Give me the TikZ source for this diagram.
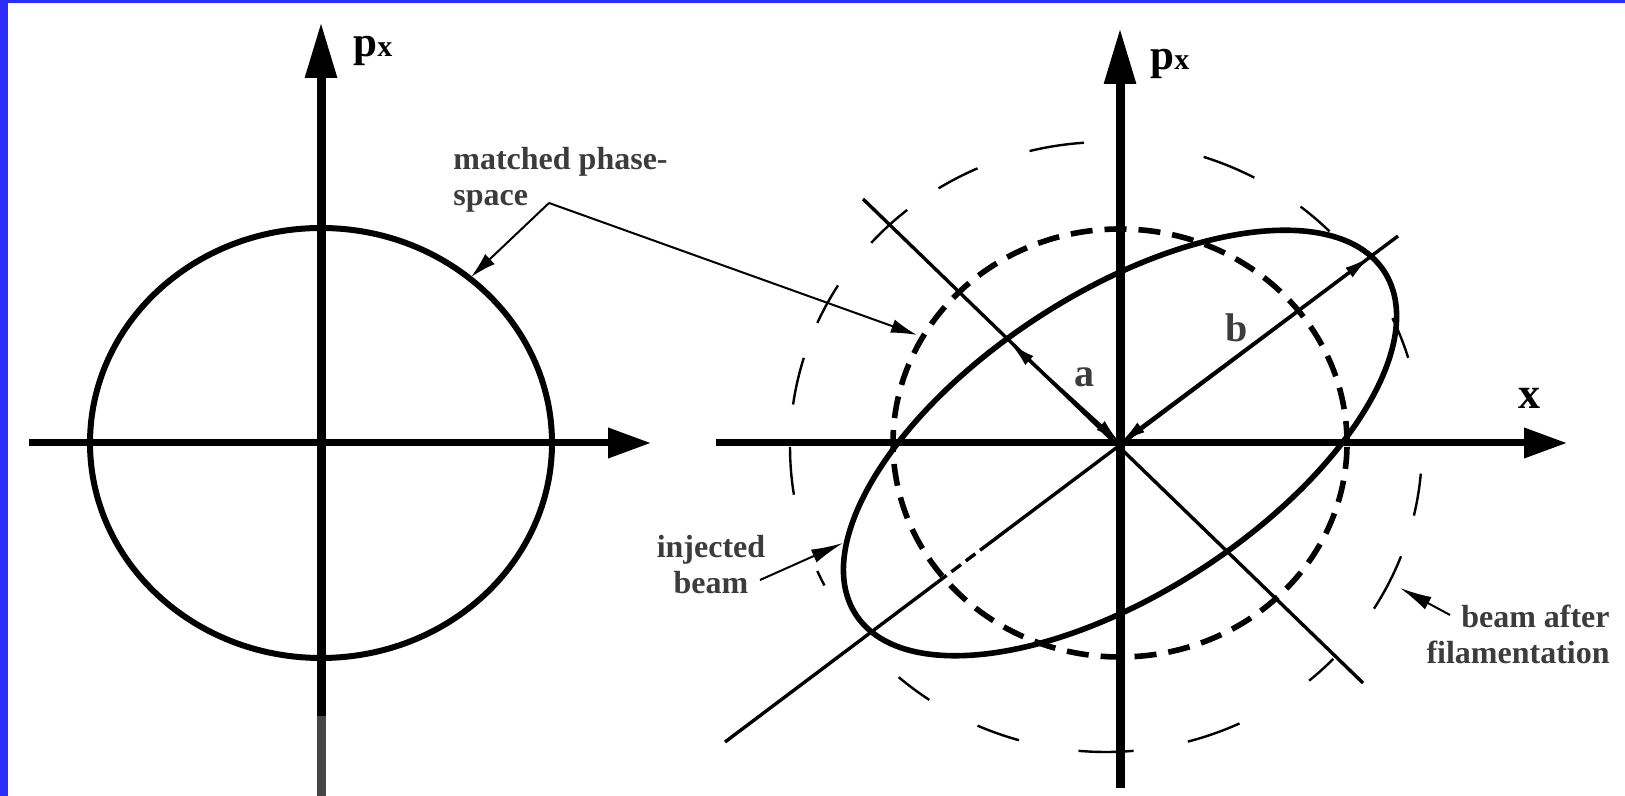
\documentclass[tikz,border=0pt]{standalone}
\usepackage{fontspec}
\setmainfont{Liberation Serif}
\usetikzlibrary{arrows.meta,calc}
\definecolor{frameblue}{RGB}{45,45,250}
\definecolor{labelgray}{RGB}{60,60,60}
\definecolor{axisgray}{RGB}{70,70,70}

\tikzset{
  vaxis/.style={line width=4.5pt, -{Triangle[length=28pt,width=15pt]}},
  haxis/.style={line width=3.5pt, -{Triangle[length=21.5pt,width=14.5pt]}},
  matchedline/.style={line width=3pt},
  matcheddash/.style={line width=2.8pt, dash pattern=on 11pt off 6pt},
  beamline/.style={line width=2.8pt},
  filamarc/.style={line width=1.2pt},
  diag/.style={line width=1.7pt},
  leader/.style={line width=1pt, -{Latex[length=13pt,width=7pt]}},
  pointer/.style={line width=1pt, -{Latex[length=16pt,width=7pt]}},
  halfaxis/.style={line width=1.5pt, {Latex[length=13pt,width=6pt]}-{Latex[length=13pt,width=6pt]}},
  lbl/.style={font=\fontsize{16pt}{18pt}\selectfont\bfseries, text=labelgray, inner sep=0pt},
  axlbl/.style={inner sep=0pt, font=\bfseries}
}

\begin{document}
\begin{tikzpicture}[x=0.5pt, y=0.5pt]
  \useasboundingbox (0,0) rectangle (1625,796);
  % frame
  \fill[frameblue] (0,0) rectangle (1625,796);
  \fill[white] (8,0) rectangle (1625,793);

  % left: matched beam
  \coordinate (lo) at (321,353);
  \coordinate (lbot) at (321,0);
  \coordinate (lgray) at (321,80);
  \coordinate (ltop) at (321,774);
  \coordinate (lleft) at (29,353);
  \coordinate (lright) at (651,353);
  \draw[matchedline] (lo) ellipse [x radius=231, y radius=215];
  \draw[vaxis] (lbot) -- (ltop);
  \draw[line width=4.5pt, axisgray] (lbot) -- (lgray);
  \draw[haxis] (lleft) -- (lright);
  \node[axlbl, anchor=base west] (lpx) at (353,739)
    {\fontsize{21.5pt}{24pt}\selectfont p\fontsize{15pt}{18pt}\selectfont x};

  % right: injected beam
  \coordinate (ro) at (1120,353);
  \coordinate (rbot) at (1120,8);
  \coordinate (rtop) at (1120,768);
  \coordinate (rleft) at (716,353);
  \coordinate (rright) at (1567,353);
  \coordinate (fc) at (1106,349);
  \coordinate (d1a) at (725,54);
  \coordinate (d1b) at (1398,560);
  \coordinate (d2a) at (863,597);
  \coordinate (d2b) at (1363,113);
  \coordinate (atip) at (1010,453);
  \coordinate (btip) at (1370,539);

  % beam after filamentation
  \foreach \s/\e in {17/25, 45/52, 62/72, 94/104, 114/122, 129/138, 148/156,
      163/172, 180/189, 204/207, 229/236, 246/254, 265/275, 285/295,
      310/316, 328/339, 347/355}
    \draw[filamarc] ($(fc)+(\s:316 and 305)$) arc[start angle=\s, end angle=\e, x radius=316, y radius=305];

  % ellipse axes
  \draw[diag] (d1a) -- ($(d1a)!0.315!(d1b)$);
  \draw[diag, dash pattern=on 6pt off 3pt] ($(d1a)!0.315!(d1b)$) -- ($(d1a)!0.379!(d1b)$);
  \draw[diag] ($(d1a)!0.379!(d1b)$) -- (d1b);
  \draw[diag] (d2a) -- (d2b);

  \draw[matcheddash] (ro) ellipse [x radius=227, y radius=214];
  \draw[beamline, rotate around={33:(ro)}] (ro) ellipse [x radius=315, y radius=150];

  \draw[vaxis] (rbot) -- (rtop);
  \draw[haxis] (rleft) -- (rright);
  \draw[halfaxis] (atip) -- (ro);
  \draw[halfaxis] (btip) -- (ro);

  \node[axlbl, anchor=base west] (rpx) at (1150,726)
    {\fontsize{21.5pt}{24pt}\selectfont p\fontsize{15pt}{18pt}\selectfont x};
  \node[axlbl, anchor=base, font=\fontsize{22pt}{24pt}\selectfont\bfseries] (rx) at (1529,387) {x};
  \node[lbl, anchor=base, font=\fontsize{20pt}{22pt}\selectfont\bfseries] (la) at (1084,409) {a};
  \node[lbl, anchor=base, font=\fontsize{20pt}{22pt}\selectfont\bfseries] (lb) at (1237,454) {b};

  % labels
  \node[lbl, anchor=north west, align=left] (matched) at (453,649) {matched phase-\\space};
  \coordinate (mv) at (549,593);
  \coordinate (mtipl) at (471,519);
  \coordinate (mtipr) at (917,461);
  \draw[leader] (mv) -- (mtipl);
  \draw[leader] (mv) -- (mtipr);

  \node[lbl, anchor=north, align=center] (injected) at (711,261) {injected\\beam};
  \coordinate (itail) at (760,216);
  \coordinate (itip) at (843,253);
  \draw[pointer] (itail) -- (itip);

  \node[lbl, anchor=north east, align=right] (filam) at (1610,191) {beam after\\filamentation};
  \coordinate (ftail) at (1450,181);
  \coordinate (ftip) at (1400,208);
  \draw[pointer] (ftail) -- (ftip);
\end{tikzpicture}
\end{document}
